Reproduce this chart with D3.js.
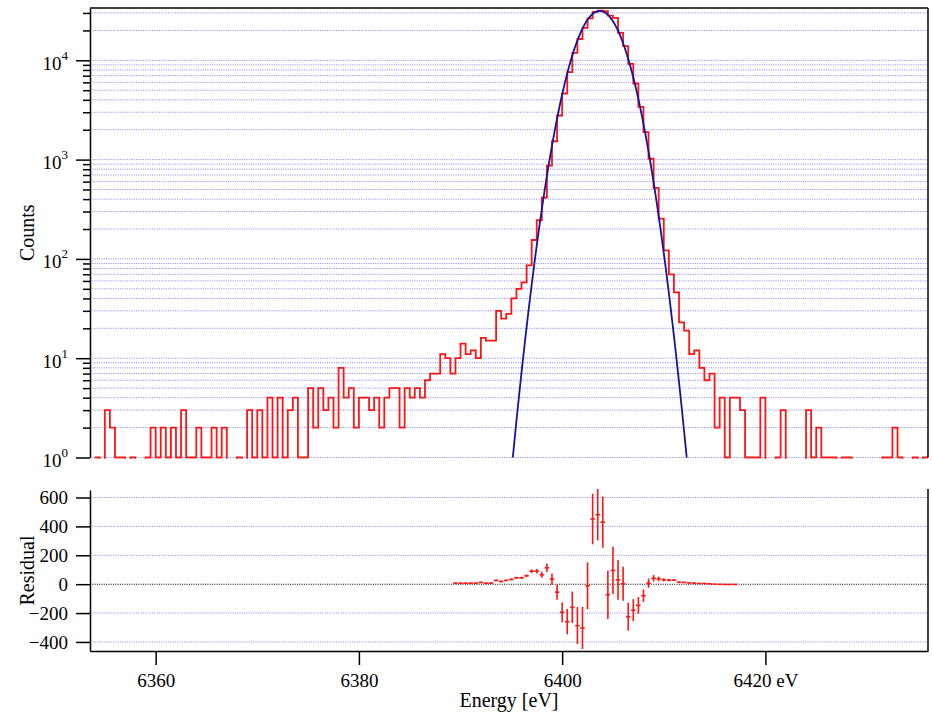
<!DOCTYPE html>
<html>
<head>
<meta charset="utf-8">
<script src="https://cdn.jsdelivr.net/npm/d3@7"></script>
<style>
  body { margin: 0; background: #fff; }
  svg { display: block; font-family: "Liberation Serif", "Times New Roman", serif; }
</style>
</head>
<body>
<svg id="chart" width="932" height="714"></svg>
<script>
// Histogram: bins of 0.5 eV starting at 6354.0 eV (counts per bin)
const binStart = 6354.0;
const binWidth = 0.5;
const counts = [
  1, 0, 3, 2, 1, 1, 0, 1, 0, 0,
  1, 2, 1, 2, 1, 2, 1, 3, 1, 1,
  2, 1, 1, 2, 1, 2, 0, 0, 1, 0,
  3, 1, 3, 1, 4, 1, 4, 1, 3, 4,
  1, 1, 5, 2, 5, 3, 4, 2, 8, 4,
  5, 2, 4, 4, 3, 4, 2, 4, 5, 5,
  2, 5, 4, 5, 4, 6, 7, 7, 11, 10,
  7, 10, 14, 11, 12, 10, 16, 15, 15, 30,
  25, 28, 40, 50, 58, 86, 155, 245, 415, 870,
  1530, 2780, 4630, 7590, 11900, 16400, 21200, 26400, 30800, 31700,
  31200, 28200, 26800, 18900, 13900, 9210, 5840, 3400, 1890, 1020,
  520, 255, 122, 70, 46, 23, 19, 11, 12, 8,
  6, 7, 2, 4, 1, 4, 4, 3, 1, 1,
  1, 4, 0, 0, 1, 3, 0, 0, 0, 0,
  3, 1, 2, 1, 1, 1, 0, 1, 1, 0,
  0, 0, 0, 0, 0, 1, 1, 2, 1, 0,
  0, 1, 0, 1
];

// Fit residuals (data - fit) with their errors, for bins 71..126
const residualFirstBin = 71;
const residuals = [
  7, 7, 7, 7, 7, 12, 7, 7, 26, 19,
  26, 33, 44, 44, 58, 90, 90, 65, 113, 35,
  -55, -195, -260, -160, -287, -303, -11, 451, 481, 429,
  -73, 95, 30, 3, -225, -180, -147, -80, 7, 41,
  37, 30, 28, 28, 14, 12, 9, 7, 5, 5,
  3, 0, -1, -2, -2, -2
];
const residualErrors = [
  3.2, 3.7, 3.3, 3.5, 3.2, 4.0, 3.9, 3.9, 5.5, 5.0,
  5.3, 6.3, 7.1, 7.6, 9.3, 12.4, 15.7, 20.4, 29.5, 39.1,
  52.7, 68.0, 87.1, 109, 128, 146, 162, 175, 178, 177,
  168, 164, 137, 118, 96, 76, 58, 43.5, 32, 22.8,
  16, 11, 8.4, 6.8, 4.8, 4.4, 3.3, 3.5, 2.8, 2.4,
  2.6, 1.4, 2.0, 1.0, 2.0, 2.0
];

// Gaussian fit parameters
const fitAmplitude = 31400;
const fitCenter = 6403.7;
const fitSigma = 1.88;

// Axis ticks
const energyTicks = [6360, 6380, 6400, 6420];
const residualTicks = [600, 400, 200, 0, -200, -400];
const countDecades = [0, 1, 2, 3, 4];

// ---------------------------------------------------------------
const svg = d3.select("#chart");
const L = 90, R = 928;
const topY0 = 8, topY1 = 457.5;
const resY0 = 490, resY1 = 651;

const x = d3.scaleLinear().domain([6353.54, 6436]).range([L, R]);
const yCounts = d3.scaleLog().domain([1, 33640]).range([topY1, topY0]);
const yRes = d3.scaleLinear().domain([-462.6, 652]).range([resY1, resY0]);

const gridBlue = "#6666ff";
const red = "#ff1414";

// log grid values: 1..9 x 10^d inside the range
const logValues = [];
countDecades.forEach(d => {
  for (let m = 1; m <= 9; m++) {
    const v = m * Math.pow(10, d);
    if (v <= yCounts.domain()[1]) logValues.push(v);
  }
});
const isMajor = v => Math.abs(Math.log10(v) - Math.round(Math.log10(v))) < 1e-9;

// clip regions
const defs = svg.append("defs");
defs.append("clipPath").attr("id", "clipHist")
  .append("rect").attr("x", L).attr("y", topY0).attr("width", R - L).attr("height", topY1 - topY0 + 1.2);
defs.append("clipPath").attr("id", "clipFit")
  .append("rect").attr("x", L).attr("y", topY0).attr("width", R - L).attr("height", topY1 - topY0);

// ---- top panel grid
svg.append("g").selectAll("line").data(logValues).join("line")
  .attr("x1", L).attr("x2", R)
  .attr("y1", d => yCounts(d)).attr("y2", d => yCounts(d))
  .attr("stroke", gridBlue).attr("stroke-width", 0.8)
  .attr("stroke-dasharray", "1,1.3");

// ---- residual grid
svg.append("g").selectAll("line").data(residualTicks).join("line")
  .attr("x1", L).attr("x2", R)
  .attr("y1", d => yRes(d)).attr("y2", d => yRes(d))
  .attr("stroke", d => d === 0 ? "#000" : gridBlue)
  .attr("stroke-width", d => d === 0 ? 1.1 : 0.8)
  .attr("stroke-dasharray", "1,1.3");

// ---- histogram (step line); empty bins fall below the axis and are clipped
const histPoints = counts.map((c, i) => [binStart + i * binWidth, c]);
histPoints.push([binStart + counts.length * binWidth, counts[counts.length - 1]]);
const stepLine = d3.line()
  .x(d => x(d[0]))
  .y(d => d[1] > 0 ? yCounts(d[1]) : topY1 + 60)
  .curve(d3.curveStepAfter);
svg.append("path")
  .datum(histPoints)
  .attr("clip-path", "url(#clipHist)")
  .attr("d", stepLine)
  .attr("fill", "none").attr("stroke", red).attr("stroke-width", 1.8)
  .attr("stroke-linejoin", "miter");

// ---- Gaussian fit curve
const fitPts = d3.range(6380, 6427, 0.02).map(e => [e, fitAmplitude * Math.exp(-0.5 * Math.pow((e - fitCenter) / fitSigma, 2))])
  .filter(d => d[1] > 0.3);
svg.append("path")
  .datum(fitPts)
  .attr("clip-path", "url(#clipFit)")
  .attr("d", d3.line().x(d => x(d[0])).y(d => yCounts(d[1])))
  .attr("fill", "none").attr("stroke", "#14149a").attr("stroke-width", 1.8);

// ---- residual points with error bars
const resData = residuals.map((r, i) => ({
  e: binStart + (residualFirstBin + i) * binWidth, r: r, err: residualErrors[i]
}));
const gRes = svg.append("g").attr("stroke", red).attr("stroke-width", 1.6);
gRes.selectAll("line.err").data(resData).join("line").attr("class", "err")
  .attr("x1", d => x(d.e)).attr("x2", d => x(d.e))
  .attr("y1", d => yRes(d.r - d.err)).attr("y2", d => yRes(d.r + d.err));
gRes.selectAll("line.mk").data(resData).join("line").attr("class", "mk")
  .attr("x1", d => x(d.e) - 2.2).attr("x2", d => x(d.e) + 2.2)
  .attr("y1", d => yRes(d.r)).attr("y2", d => yRes(d.r));

// ---- frame lines
const frame = svg.append("g").attr("stroke", "#000").attr("stroke-width", 1.5).attr("fill", "none");
frame.append("line").attr("x1", L).attr("x2", R).attr("y1", topY0).attr("y2", topY0);
frame.append("line").attr("x1", R).attr("x2", R).attr("y1", topY0).attr("y2", topY1);
frame.append("line").attr("x1", R).attr("x2", R).attr("y1", resY0 - 1).attr("y2", resY1);

// ---- counts axis (log)
const countsAxis = d3.axisLeft(yCounts).tickValues(logValues).tickSize(14).tickSizeOuter(0).tickFormat("");
const gCounts = svg.append("g").attr("transform", `translate(${L},0)`).call(countsAxis);
gCounts.select(".domain").attr("stroke-width", 1.5);
gCounts.selectAll(".tick line").attr("stroke-width", 1.5).attr("x2", d => isMajor(d) ? -14 : -7);
gCounts.selectAll(".tick").filter(d => isMajor(d)).each(function (d) {
  const t = d3.select(this).append("text")
    .attr("x", -22).attr("y", 9).attr("text-anchor", "end")
    .attr("fill", "#000").style("font-size", "19px");
  t.append("tspan").text("10");
  t.append("tspan").attr("dy", -10).style("font-size", "13px").text(Math.round(Math.log10(d)));
});

// ---- residual axis
const resAxis = d3.axisLeft(yRes).tickValues(residualTicks).tickSize(14).tickSizeOuter(0).tickPadding(8);
const gResAxis = svg.append("g").attr("transform", `translate(${L},0)`).call(resAxis);
gResAxis.select(".domain").attr("stroke-width", 1.5);
gResAxis.selectAll(".tick line").attr("stroke-width", 1.5);
gResAxis.selectAll(".tick text").style("font-size", "19px").attr("fill", "#000");

// ---- energy axis
const eAxis = d3.axisBottom(x).tickValues(energyTicks).tickSize(14).tickSizeOuter(0).tickPadding(9)
  .tickFormat(d => d === 6420 ? "6420 eV" : String(d));
const gE = svg.append("g").attr("transform", `translate(0,${resY1})`).call(eAxis);
gE.select(".domain").attr("stroke-width", 1.5);
gE.selectAll(".tick line").attr("stroke-width", 1.5);
gE.selectAll(".tick text").style("font-size", "19px").attr("fill", "#000");

svg.selectAll("g[font-family]").attr("font-family", null).attr("font-size", null);

// ---- titles
svg.append("text").attr("transform", `translate(34,${(topY0 + topY1) / 2}) rotate(-90)`)
  .attr("text-anchor", "middle").style("font-size", "20px").text("Counts");
svg.append("text").attr("transform", `translate(34,${(resY0 + resY1) / 2}) rotate(-90)`)
  .attr("text-anchor", "middle").style("font-size", "20px").text("Residual");
svg.append("text").attr("x", (L + R) / 2).attr("y", 707)
  .attr("text-anchor", "middle").style("font-size", "20px").text("Energy [eV]");
</script>
</body>
</html>
